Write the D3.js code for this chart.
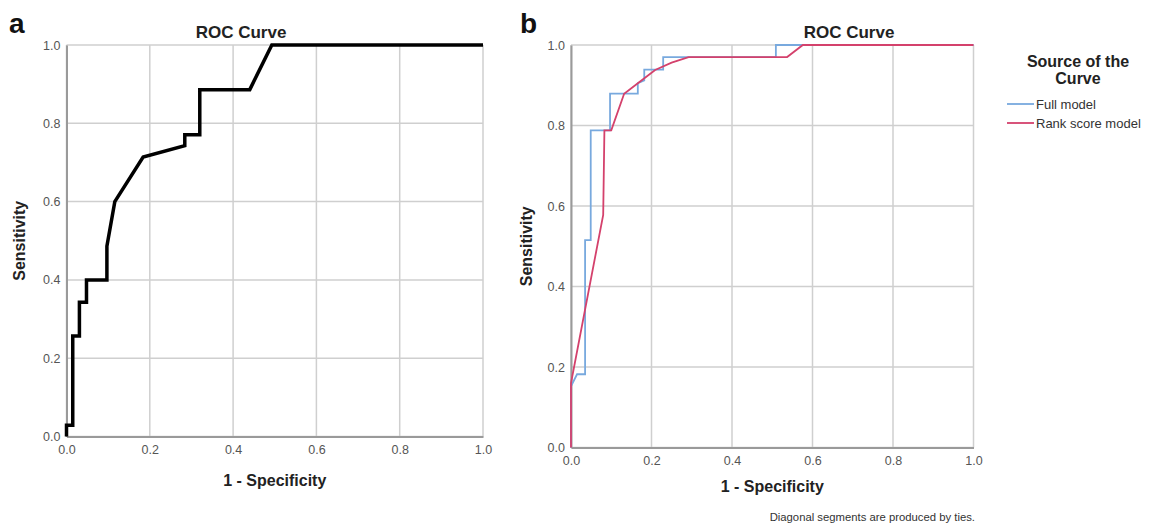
<!DOCTYPE html>
<html>
<head>
<meta charset="utf-8">
<script src="https://cdn.jsdelivr.net/npm/d3@7"></script>
<style>
body { margin:0; background:#fff; }
svg { display:block; font-family:'Liberation Sans', Arial, sans-serif; }
</style>
</head>
<body>
<svg id="chart" width="1151" height="524"></svg>
<script>
// tick labels shared by both panels
var ticks = [0, 0.2, 0.4, 0.6, 0.8, 1.0];

// panel a - single ROC curve
var aFpr = [0, 0, 0.015, 0.015, 0.031, 0.031, 0.048, 0.048, 0.097, 0.097, 0.116, 0.184, 0.284, 0.284, 0.320, 0.320, 0.44, 0.493, 1];
var aTpr = [0, 0.029, 0.029, 0.257, 0.257, 0.343, 0.343, 0.4, 0.4, 0.486, 0.6, 0.714, 0.743, 0.771, 0.771, 0.886, 0.886, 1, 1];

// panel b - two models
var seriesNames = ['Full model', 'Rank score model'];
var fullFpr = [0, 0, 0.015, 0.035, 0.035, 0.049, 0.049, 0.097, 0.097, 0.166, 0.166, 0.182, 0.182, 0.229, 0.229, 0.509, 0.509, 1];
var fullTpr = [0, 0.152, 0.182, 0.182, 0.515, 0.515, 0.788, 0.788, 0.879, 0.879, 0.905, 0.912, 0.939, 0.939, 0.97, 0.97, 1, 1];
var rankFpr = [0, 0, 0.08, 0.083, 0.1, 0.132, 0.166, 0.209, 0.25, 0.292, 0.537, 0.576, 1];
var rankTpr = [0, 0.16, 0.578, 0.788, 0.788, 0.879, 0.905, 0.938, 0.956, 0.97, 0.97, 1, 1];

var colors = ['#78a9de', '#d4416c'];

var svg = d3.select('#chart');

function zip(xs, ys) {
	return xs.map(function(x, i){ return [x, ys[i]]; });
}

function drawPanel(opt) {
	var x = d3.scaleLinear().domain([0, 1]).range([opt.left, opt.right]);
	var y = d3.scaleLinear().domain([0, 1]).range([opt.bottom, opt.top]);
	var g = svg.append('g');

	// grid
	g.selectAll('.vgrid').data(ticks).enter().append('line')
		.attr('x1', function(d){ return x(d); }).attr('x2', function(d){ return x(d); })
		.attr('y1', y(0)).attr('y2', y(1))
		.attr('stroke', '#cfcfcf').attr('stroke-width', 1.5);
	g.selectAll('.hgrid').data(ticks).enter().append('line')
		.attr('y1', function(d){ return y(d); }).attr('y2', function(d){ return y(d); })
		.attr('x1', x(0)).attr('x2', x(1))
		.attr('stroke', '#cfcfcf').attr('stroke-width', 1.5);

	// axes
	var xAxis = g.append('g').attr('transform', 'translate(0,' + y(0) + ')')
		.call(d3.axisBottom(x).tickValues(ticks).tickFormat(d3.format('.1f')).tickSize(0).tickPadding(opt.xPad));
	var yAxis = g.append('g').attr('transform', 'translate(' + x(0) + ',0)')
		.call(d3.axisLeft(y).tickValues(ticks).tickFormat(d3.format('.1f')).tickSize(0).tickPadding(6));
	[xAxis, yAxis].forEach(function(a){
		a.select('.domain').attr('stroke', '#9a9a9a').attr('stroke-width', 2);
		a.selectAll('text').attr('fill', '#555').style('font-size', '12.5px').style('font-family', "'Liberation Sans', Arial, sans-serif");
	});

	// curves
	var line = d3.line().x(function(d){ return x(d[0]); }).y(function(d){ return y(d[1]); });
	opt.curves.forEach(function(c){
		g.append('path').datum(c.points)
			.attr('d', line)
			.attr('fill', 'none')
			.attr('stroke', c.color)
			.attr('stroke-width', c.width)
			.attr('stroke-linejoin', 'miter');
	});

	// labels
	g.append('text').attr('x', opt.titleX).attr('y', 38)
		.attr('text-anchor', 'middle').style('font-size', '17px').style('font-weight', 'bold')
		.attr('fill', '#222').text('ROC Curve');
	g.append('text').attr('x', (opt.left + opt.right) / 2).attr('y', opt.xTitleY)
		.attr('text-anchor', 'middle').style('font-size', '16px').style('font-weight', 'bold')
		.attr('fill', '#222').text('1 - Specificity');
	g.append('text')
		.attr('transform', 'translate(' + opt.yTitleX + ',' + (opt.top + opt.bottom) / 2 + ') rotate(-90)')
		.attr('text-anchor', 'middle').style('font-size', '16px').style('font-weight', 'bold')
		.attr('fill', '#222').text('Sensitivity');
	g.append('text').attr('x', opt.letterX).attr('y', 33)
		.style('font-size', '28px').style('font-weight', 'bold')
		.attr('fill', '#111').text(opt.letter);
}

drawPanel({
	left: 66.5, right: 483, top: 45, bottom: 436.5,
	xPad: 9, titleX: 241, xTitleY: 486, yTitleX: 25, letterX: 9, letter: 'a',
	curves: [ { points: zip(aFpr, aTpr), color: '#000', width: 3.5 } ]
});

drawPanel({
	left: 571, right: 973.5, top: 45, bottom: 447.5,
	xPad: 9, titleX: 849, xTitleY: 492, yTitleX: 532, letterX: 520, letter: 'b',
	curves: [
		{ points: zip(fullFpr, fullTpr), color: colors[0], width: 1.8 },
		{ points: zip(rankFpr, rankTpr), color: colors[1], width: 1.8 }
	]
});

// legend
var legend = svg.append('g');
legend.append('text').attr('x', 1078).attr('y', 67)
	.attr('text-anchor', 'middle').style('font-size', '16px').style('font-weight', 'bold')
	.attr('fill', '#222').text('Source of the');
legend.append('text').attr('x', 1078).attr('y', 84)
	.attr('text-anchor', 'middle').style('font-size', '16px').style('font-weight', 'bold')
	.attr('fill', '#222').text('Curve');
var items = legend.selectAll('.item').data(seriesNames).enter().append('g')
	.attr('transform', function(d, i){ return 'translate(1007,' + (104 + i * 19) + ')'; });
items.append('line').attr('x1', 0).attr('x2', 27)
	.attr('stroke', function(d, i){ return colors[i]; }).attr('stroke-width', 1.8);
items.append('text').attr('x', 29).attr('y', 4.5)
	.style('font-size', '13px').attr('fill', '#333').text(function(d){ return d; });

// footnote
svg.append('text').attr('x', 975).attr('y', 521)
	.attr('text-anchor', 'end').style('font-size', '11.3px').attr('fill', '#333')
	.text('Diagonal segments are produced by ties.');
</script>
</body>
</html>
